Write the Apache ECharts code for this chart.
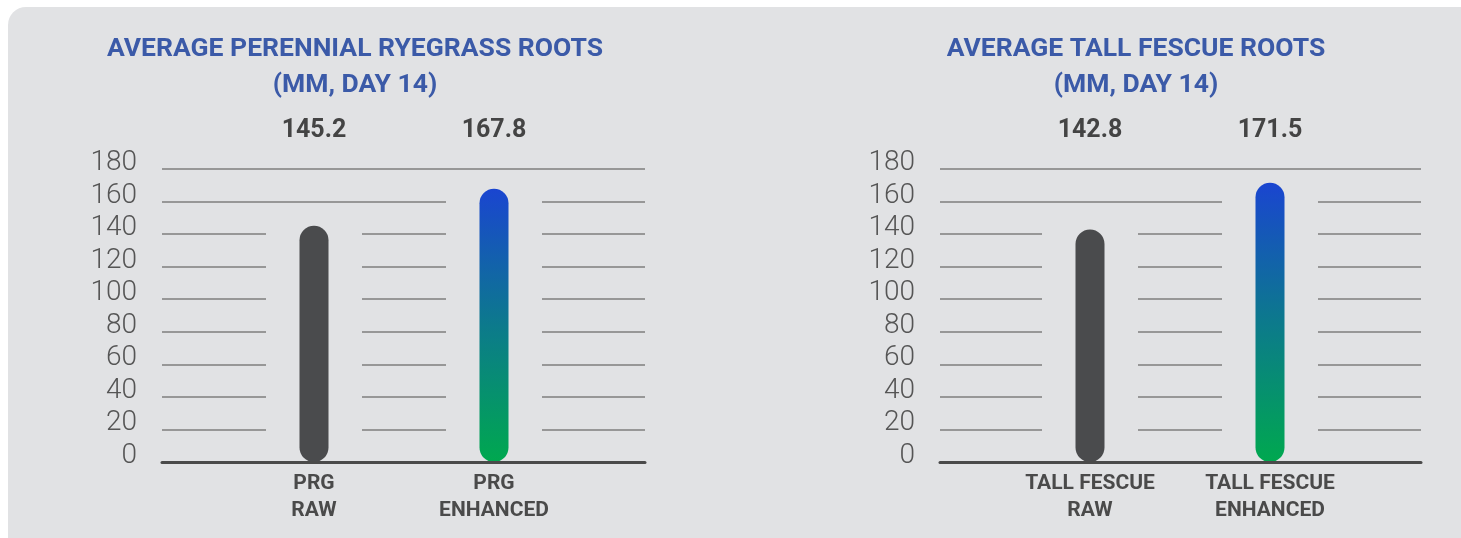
<!DOCTYPE html>
<html>
<head>
<meta charset="utf-8">
<script src="https://cdn.jsdelivr.net/npm/echarts@6/dist/echarts.min.js"></script>
<style>
  html, body { margin: 0; padding: 0; background: #ffffff; }
  #chart { width: 1461px; height: 538px; }
</style>
</head>
<body>
<div id="chart"></div>
<script>
// ---- data ----
const leftTitle = 'AVERAGE PERENNIAL RYEGRASS ROOTS\n(MM, DAY 14)';
const rightTitle = 'AVERAGE TALL FESCUE ROOTS\n(MM, DAY 14)';
const leftCategories = ['PRG\nRAW', 'PRG\nENHANCED'];
const leftValues = [145.2, 167.8];
const rightCategories = ['TALL FESCUE\nRAW', 'TALL FESCUE\nENHANCED'];
const rightValues = [142.8, 171.5];
const yMin = 0;
const yMax = 180;
const yInterval = 20;

// ---- styles ----
const BG = '#e1e2e4';
const RAW_COLOR = '#4a4b4d';
const enhancedGradient = new echarts.graphic.LinearGradient(0, 0, 0, 1, [
  { offset: 0, color: '#1a45d0' },
  { offset: 0.5, color: '#0c7a8c' },
  { offset: 1, color: '#00a84f' }
]);
const barColors = [RAW_COLOR, enhancedGradient];

const chart = echarts.init(document.getElementById('chart'));

const TOP = 169, BOTTOM = 76;
const frames = [
  { left: 162, width: 483, barLeft: 224, barWidth: 360, titleX: 350 },
  { left: 940, width: 481, barLeft: 1000, barWidth: 360, titleX: 1131 }
];
const sets = [
  { title: leftTitle, cats: leftCategories, vals: leftValues },
  { title: rightTitle, cats: rightCategories, vals: rightValues }
];

const grid = [], xAxis = [], yAxis = [], series = [], title = [];

frames.forEach((f, k) => {
  const s = sets[k];
  const gFrame = grid.length;
  grid.push({ left: f.left, width: f.width, top: TOP, bottom: BOTTOM });
  const gBar = grid.length;
  grid.push({ left: f.barLeft, width: f.barWidth, top: TOP, bottom: BOTTOM });

  // frame x axis (axis line only)
  xAxis.push({
    gridIndex: gFrame, type: 'category', data: [''], z: 10,
    axisLine: { show: true, lineStyle: { color: '#4a4a4a', width: 3 } },
    axisTick: { show: false }, axisLabel: { show: false }, splitLine: { show: false }
  });
  // bottom category axis
  const xBottom = xAxis.length;
  xAxis.push({
    gridIndex: gBar, type: 'category', data: s.cats, position: 'bottom',
    axisLine: { show: false }, axisTick: { show: false },
    axisLabel: {
      margin: 8, fontSize: 21, fontWeight: 700, color: '#4a4a4a',
      fontFamily: 'Roboto', lineHeight: 27
    }
  });
  // top value-label axis
  const xTop = xAxis.length;
  xAxis.push({
    gridIndex: gBar, type: 'category', data: s.cats, position: 'top',
    axisLine: { show: false }, axisTick: { show: false },
    axisLabel: {
      margin: 24, fontSize: 25, fontWeight: 700, color: '#444444',
      fontFamily: 'Roboto', lineHeight: 28,
      formatter: (v, i) => s.vals[i].toFixed(1)
    }
  });

  yAxis.push({
    gridIndex: gFrame, type: 'value', min: yMin, max: yMax, interval: yInterval,
    axisLine: { show: false }, axisTick: { show: false },
    axisLabel: {
      margin: 25, fontSize: 28, fontWeight: 300, color: '#555555',
      fontFamily: 'Roboto', verticalAlign: 'bottom', lineHeight: 12
    },
    splitLine: { show: true, lineStyle: { color: '#979797', width: 2 } }
  });
  const yBar = yAxis.length;
  yAxis.push({
    gridIndex: gBar, type: 'value', min: yMin, max: yMax, interval: yInterval,
    show: false, splitLine: { show: false }
  });

  // mask bars interrupt the grid lines
  series.push({
    type: 'bar', xAxisIndex: xTop, yAxisIndex: yBar, data: s.vals,
    barWidth: 96, silent: true, z: 1,
    itemStyle: { color: BG }
  });
  // visible bars
  series.push({
    type: 'bar', xAxisIndex: xBottom, yAxisIndex: yBar, z: 3,
    data: s.vals.map((v, i) => ({ value: v, itemStyle: { color: barColors[i] } })),
    barWidth: 29,
    itemStyle: { borderRadius: 14.5 }
  });

  title.push({
    text: s.title, left: f.titleX, top: 26, textAlign: 'center',
    textStyle: {
      fontSize: 26.5, fontWeight: 700, color: '#3b5aa8',
      fontFamily: 'Roboto', lineHeight: 36
    }
  });
});

chart.setOption({
  animation: false,
  backgroundColor: '#ffffff',
  title: title,
  graphic: [{
    type: 'rect', z: -100, silent: true,
    shape: { x: 8, y: 7, width: 1470, height: 560, r: 18 },
    style: { fill: BG }
  }],
  grid: grid,
  xAxis: xAxis,
  yAxis: yAxis,
  series: series
});
</script>
</body>
</html>
